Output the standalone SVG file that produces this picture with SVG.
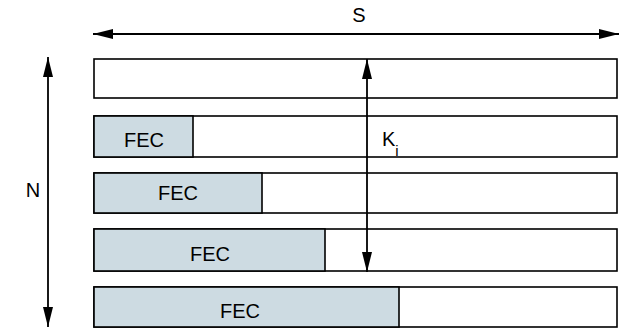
<svg xmlns="http://www.w3.org/2000/svg" width="628" height="329" viewBox="0 0 628 329">
<style>
.row{fill:#fff;stroke:#000;stroke-width:1.6}
.fec{fill:#cddbe2;stroke:#000;stroke-width:1.6}
.t{font-family:"Liberation Sans",Arial,sans-serif;font-size:20px;fill:#000}
.c{stroke:#000;stroke-width:1.8;fill:none}
</style>
<defs>
<marker id="ah" viewBox="0 0 20 10" refX="20" refY="5" markerWidth="20" markerHeight="10" markerUnits="userSpaceOnUse" orient="auto-start-reverse">
<path d="M0,0 L20,5 L0,10 Z" fill="#000"/>
</marker>
</defs>
<g id="row1"><rect class="row" x="94" y="59" width="523" height="39"/></g>
<g id="row2"><rect class="row" x="94" y="116" width="523" height="41"/><rect class="fec" x="94" y="116" width="99" height="41"/><text class="t" x="144" y="147" text-anchor="middle">FEC</text></g>
<g id="row3"><rect class="row" x="94" y="173" width="523" height="40"/><rect class="fec" x="94" y="173" width="168" height="40"/><text class="t" x="178" y="200" text-anchor="middle">FEC</text></g>
<g id="row4"><rect class="row" x="94" y="229" width="523" height="42"/><rect class="fec" x="94" y="229" width="231" height="42"/><text class="t" x="210" y="261" text-anchor="middle">FEC</text></g>
<g id="row5"><rect class="row" x="94" y="287" width="523" height="40"/><rect class="fec" x="94" y="287" width="305" height="40"/><text class="t" x="240" y="318" text-anchor="middle">FEC</text></g>
<g id="connectors">
<line class="c" x1="93" y1="34" x2="619" y2="34" marker-start="url(#ah)" marker-end="url(#ah)"/>
<line class="c" x1="48" y1="57" x2="48" y2="327" marker-start="url(#ah)" marker-end="url(#ah)"/>
<line class="c" x1="367" y1="59" x2="367" y2="272" marker-start="url(#ah)" marker-end="url(#ah)"/>
</g>
<g id="labels">
<text class="t" x="359" y="22" text-anchor="middle">S</text>
<text class="t" x="33" y="197" text-anchor="middle">N</text>
<text class="t" x="382" y="146">K<tspan font-size="15" dy="10">i</tspan></text>
</g>
</svg>
